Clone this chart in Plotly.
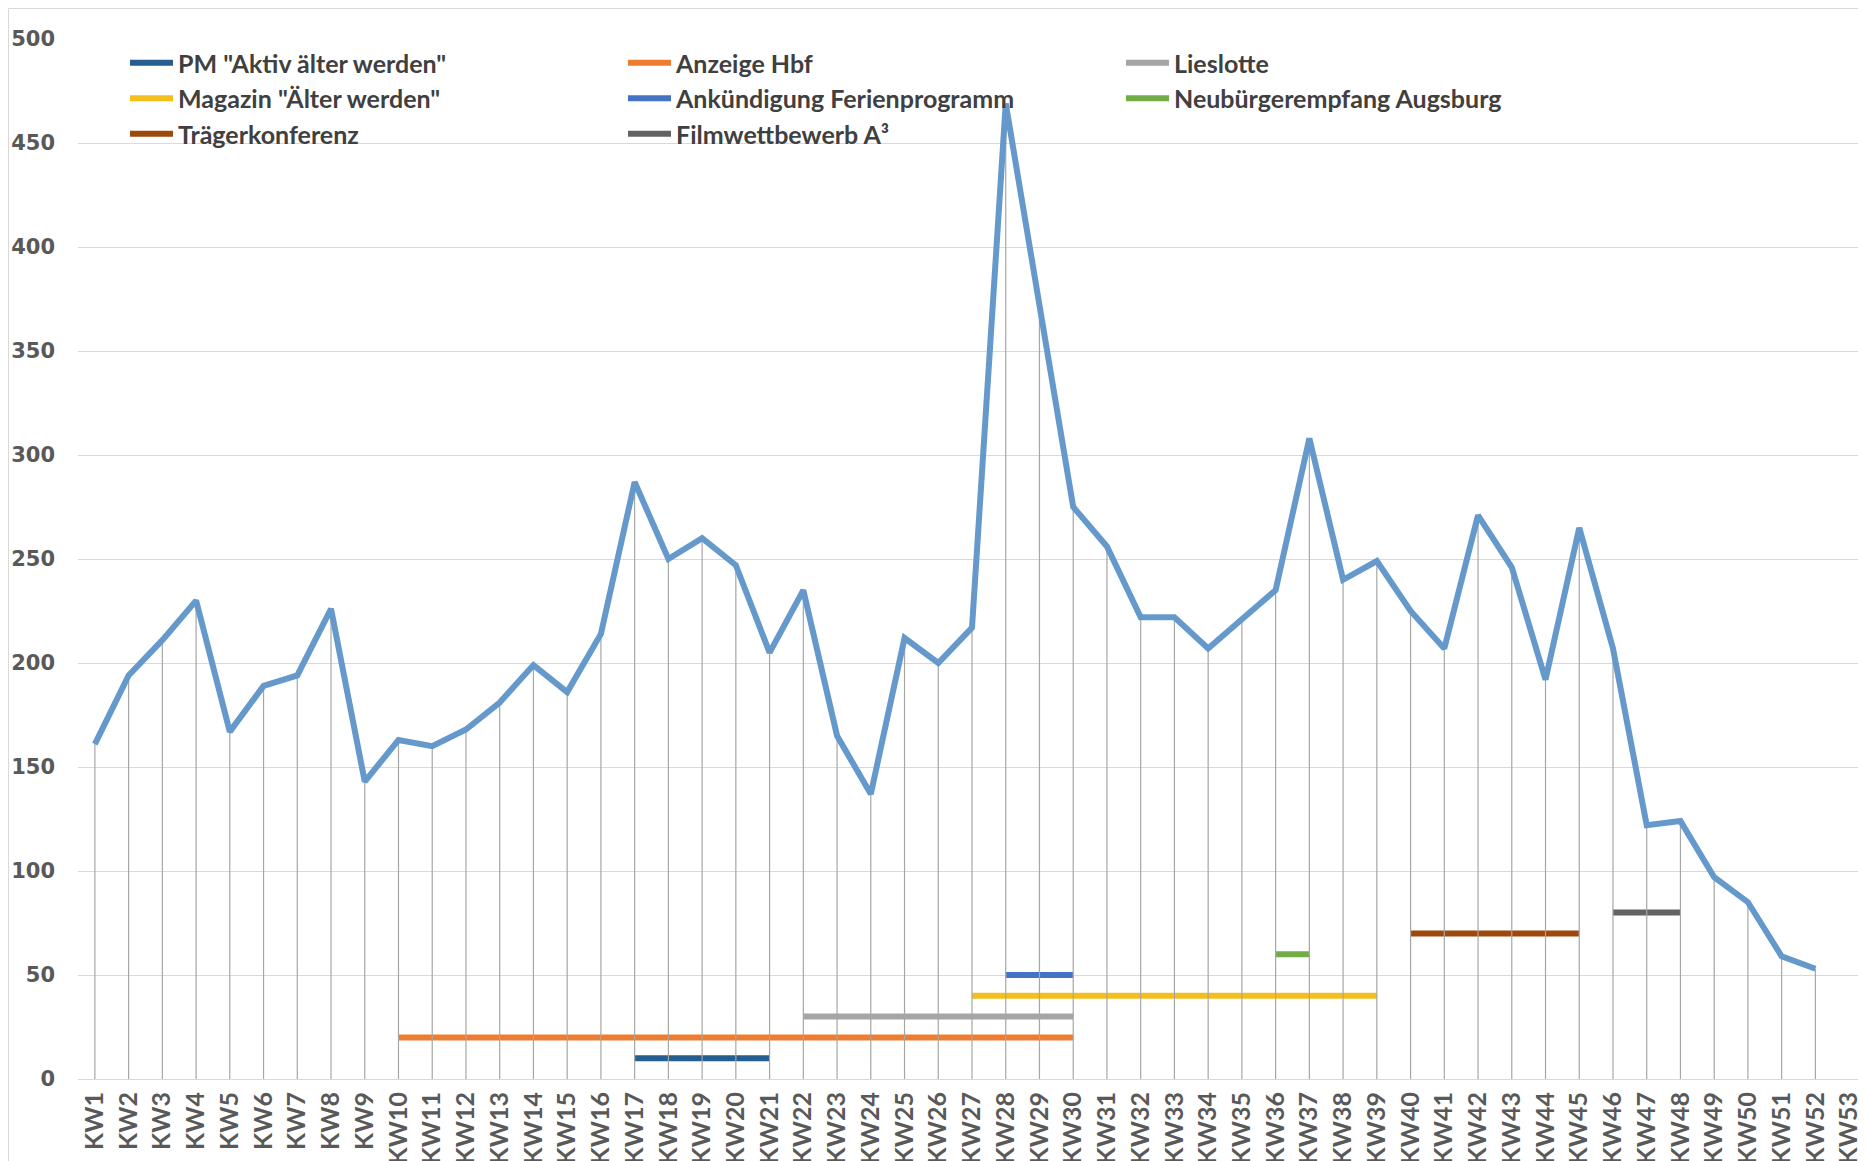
import plotly.graph_objects as go

weeks = [f"KW{i}" for i in range(1, 54)]
visits = [161, 194, 211, 230, 167, 189, 194, 226, 143, 163, 160, 168, 181, 199, 186, 214,
          287, 250, 260, 247, 205, 235, 165, 137, 212, 200, 217, 469, 372, 275, 256, 222,
          222, 207, 221, 235, 308, 240, 249, 225, 207, 271, 246, 192, 265, 207, 122, 124,
          97, 85, 59, 53, None]

event_names = ['PM "Aktiv älter werden"', 'Anzeige Hbf', 'Lieslotte',
               'Magazin "Älter werden"', 'Ankündigung Ferienprogramm', 'Neubürgerempfang Augsburg',
               'Trägerkonferenz', 'Filmwettbewerb A³']
event_start = ["KW17", "KW10", "KW22", "KW27", "KW28", "KW36", "KW40", "KW46"]
event_end = ["KW21", "KW30", "KW30", "KW39", "KW30", "KW37", "KW45", "KW48"]
event_level = [10, 20, 30, 40, 50, 60, 70, 80]
event_colors = ["#255E91", "#ED7D31", "#A5A5A5", "#F2BF1E", "#4472C4", "#70AD47", "#9E480E", "#636363"]

fig = go.Figure()

for name, s, e, lvl, col in zip(event_names, event_start, event_end, event_level, event_colors):
    i0, i1 = weeks.index(s), weeks.index(e)
    xs = weeks[i0:i1 + 1]
    fig.add_trace(go.Scatter(x=xs, y=[lvl] * len(xs), mode="lines", name=name,
                             line=dict(color=col, width=6), hoverinfo="skip"))

# drop lines from each point down to zero
dx, dy = [], []
for w, v in zip(weeks, visits):
    if v is None:
        continue
    dx += [w, w, None]
    dy += [0, v, None]
fig.add_trace(go.Scatter(x=dx, y=dy, mode="lines", showlegend=False,
                         line=dict(color="#A6A6A6", width=1.2), hoverinfo="skip"))

fig.add_trace(go.Scatter(x=weeks, y=visits, mode="lines", showlegend=False, name="Besuche",
                         line=dict(color="#6599CB", width=6), connectgaps=False))

# page has an 8px body margin, so the figure is 8px smaller each way
W, H = 1858, 1153
L, T, B = 70, 31, 82
pw, ph = W - L, H - T - B

fig.update_layout(
    width=W, height=H,
    margin=dict(l=L, r=0, t=T, b=B, autoexpand=False),
    paper_bgcolor="white", plot_bgcolor="white",
    xaxis=dict(type="category", categoryorder="array", categoryarray=weeks,
               range=[-0.5, 52.5], tickangle=-90, showgrid=False, ticks="",
               showline=True, linecolor="#D9D9D9", linewidth=1,
               tickfont=dict(family="Lato, Roboto, sans-serif", size=25,
                             color="#595959", weight="bold"),
               ticklabelstandoff=2),
    yaxis=dict(range=[0, 500], tick0=0, dtick=50, showgrid=True, gridcolor="#D9D9D9",
               gridwidth=1, zeroline=False, ticks="",
               tickfont=dict(family="DejaVu Sans, sans-serif", size=21, color="#595959",
                             weight="bold"),
               ticklabelstandoff=22),
    legend=dict(orientation="h", x=(117 - L) / pw, y=1 - (32 - T) / ph,
                xanchor="left", yanchor="top", bgcolor="rgba(0,0,0,0)",
                entrywidth=440, entrywidthmode="pixels", tracegroupgap=0,
                itemwidth=43,
                font=dict(family="Lato, Roboto, sans-serif", size=25,
                          color="#404040", weight="bold")),
    shapes=[dict(type="rect", xref="paper", yref="paper",
                 x0=(0.5 - L) / pw, x1=1.01, y0=-0.2, y1=1 + (T - 0.5) / ph,
                 line=dict(color="#D9D9D9", width=1), fillcolor="rgba(0,0,0,0)", layer="below")],
    showlegend=True,
)

fig.write_html("out.html")
